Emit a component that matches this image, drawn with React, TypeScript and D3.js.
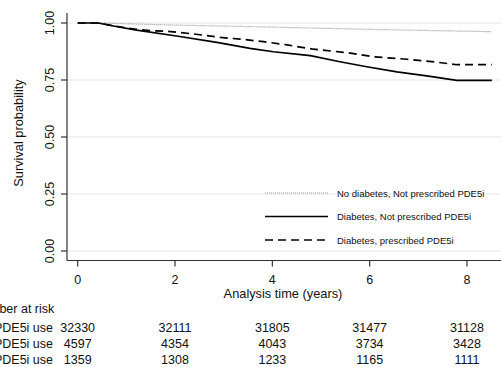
import React from "react";
import * as d3 from "d3";

const W = 501;
const H = 367;

const yTicks = [0, 0.25, 0.5, 0.75, 1];
const xTicks = [0, 2, 4, 6, 8];

const noDiabT = [0, 0.4, 2, 4.2, 6, 8.5];
const noDiabV = [1, 1, 0.991, 0.981, 0.972, 0.962];

const diabNoT = [0, 0.42, 0.73, 1.21, 2.03, 2.86, 3.54, 4.02, 4.78, 5.39, 5.94, 6.56, 7.17, 7.79, 8.51];
const diabNoV = [1, 1, 0.987, 0.969, 0.943, 0.915, 0.889, 0.874, 0.857, 0.83, 0.808, 0.786, 0.768, 0.748, 0.748];

const diabYesT = [0, 0.42, 0.73, 1.21, 1.55, 1.83, 2.38, 2.93, 3.4, 3.82, 4.3, 4.84, 5.53, 6.08, 6.76, 7.38, 7.79, 8.51];
const diabYesV = [1, 1, 0.988, 0.972, 0.966, 0.964, 0.952, 0.937, 0.928, 0.918, 0.904, 0.885, 0.87, 0.852, 0.841, 0.828, 0.817, 0.817];

const seriesNames = [
  "No diabetes, Not prescribed PDE5i",
  "Diabetes, Not prescribed PDE5i",
  "Diabetes, prescribed PDE5i",
];

const riskLabels = ["No diabetes, No PDE5i use", "Diabetes, No PDE5i use", "Diabetes, PDE5i use"];
const riskRow1 = [32330, 32111, 31805, 31477, 31128];
const riskRow2 = [4597, 4354, 4043, 3734, 3428];
const riskRow3 = [1359, 1308, 1233, 1165, 1111];

const FONT = "'Liberation Sans', Arial, Helvetica, sans-serif";

export default function App() {
  const x = d3.scaleLinear().domain([0, 8]).range([77.7, 467]);
  const y = d3.scaleLinear().domain([0, 1]).range([251, 23]);
  const line = d3
    .line<[number, number]>()
    .x((d) => x(d[0]))
    .y((d) => y(d[1]));

  const zip = (t: number[], v: number[]) => t.map((tt, i) => [tt, v[i]] as [number, number]);

  const styles = [
    { stroke: "#999", width: 1.2, dash: "1,1" },
    { stroke: "#000", width: 1.7, dash: undefined as string | undefined },
    { stroke: "#000", width: 1.7, dash: "8,5" },
  ];
  const series = [zip(noDiabT, noDiabV), zip(diabNoT, diabNoV), zip(diabYesT, diabYesV)];
  const rows = [riskRow1, riskRow2, riskRow3];

  const axisColor = "#333";
  const legendY = [193, 216.5, 240];

  return (
    <svg
      width={W}
      height={H}
      style={{ position: "absolute", left: 0, top: 0, display: "block", background: "#fff" }}
      fontFamily={FONT}
    >
      {yTicks.map((t) => (
        <line key={"g" + t} x1={67} x2={W} y1={y(t)} y2={y(t)} stroke="#e6e6e6" strokeWidth={1.2} />
      ))}
      <line x1={67} x2={67} y1={13} y2={260.5} stroke={axisColor} strokeWidth={1.2} />
      {yTicks.map((t) => (
        <g key={"yt" + t}>
          <line x1={61} x2={67} y1={y(t)} y2={y(t)} stroke={axisColor} strokeWidth={1.2} />
          <text
            transform={`translate(54,${y(t)}) rotate(-90)`}
            textAnchor="middle"
            fontSize={12.5}
            fill="#111"
          >
            {t.toFixed(2)}
          </text>
        </g>
      ))}
      <text transform={`translate(23,133) rotate(-90)`} textAnchor="middle" fontSize={12.8} fill="#111">
        Survival probability
      </text>
      <line x1={67} x2={W} y1={260.5} y2={260.5} stroke={axisColor} strokeWidth={1.2} />
      {xTicks.map((t) => (
        <g key={"xt" + t}>
          <line x1={x(t)} x2={x(t)} y1={260.5} y2={266.5} stroke={axisColor} strokeWidth={1.2} />
          <text x={x(t)} y={284} textAnchor="middle" fontSize={12.5} fill="#111">
            {t}
          </text>
        </g>
      ))}
      <text x={283} y={298} textAnchor="middle" fontSize={12.8} fill="#111">
        Analysis time (years)
      </text>
      {series.map((s, i) => (
        <path
          key={"s" + i}
          d={line(s) || ""}
          fill="none"
          stroke={styles[i].stroke}
          strokeWidth={styles[i].width}
          strokeDasharray={styles[i].dash}
        />
      ))}
      {seriesNames.map((n, i) => (
        <g key={"l" + i}>
          <line
            x1={265}
            x2={328}
            y1={legendY[i]}
            y2={legendY[i]}
            stroke={styles[i].stroke}
            strokeWidth={styles[i].width}
            strokeDasharray={styles[i].dash}
          />
          <text x={337} y={legendY[i] + 3.5} fontSize={9.5} fill="#111">
            {n}
          </text>
        </g>
      ))}
      <text x={-27} y={313} fontSize={12.5} fill="#111">
        Number at risk
      </text>
      {rows.map((r, i) => (
        <g key={"r" + i}>
          <text x={53} y={332 + i * 16} textAnchor="end" fontSize={12.5} fill="#111">
            {riskLabels[i]}
          </text>
          {r.map((v, j) => (
            <text key={j} x={x(xTicks[j])} y={332 + i * 16} textAnchor="middle" fontSize={12.5} fill="#111">
              {v}
            </text>
          ))}
        </g>
      ))}
    </svg>
  );
}
